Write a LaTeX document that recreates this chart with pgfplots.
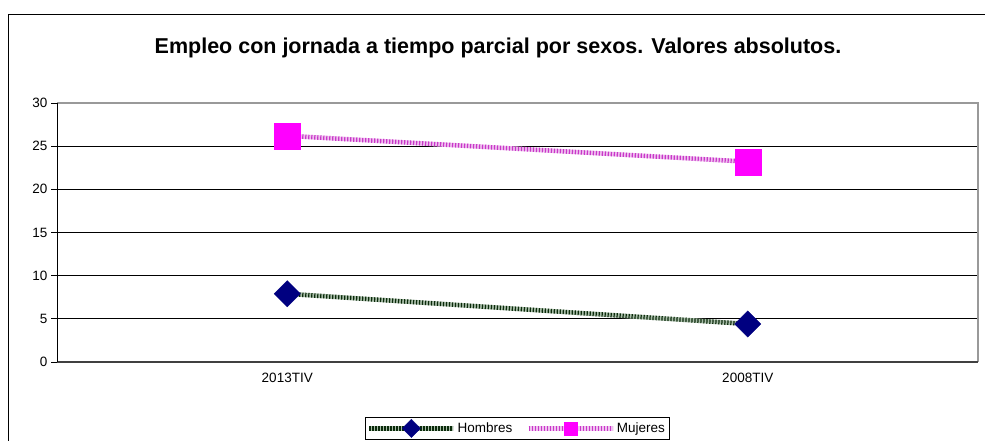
\documentclass[border=0pt]{standalone}
\usepackage{fontspec}
\setmainfont{Liberation Sans}
\usepackage{pgfplots}
\pgfplotsset{compat=1.18}
\definecolor{hmark}{HTML}{000080}
\definecolor{hdark}{HTML}{0A2A0A}
\definecolor{hlight}{HTML}{A8BCA8}
\definecolor{mmark}{HTML}{FF00FF}
\definecolor{mdark}{HTML}{C838C8}
\definecolor{mlight}{HTML}{F0C0F0}
\begin{document}
\begin{tikzpicture}[x=1bp,y=1bp]
\clip (0,0) rectangle (985,441);
\path[use as bounding box] (0,0) rectangle (985,441);
\draw[black, line width=1bp] (8,-20) -- (8,426) -- (1000,426);
\node[font=\bfseries\fontsize{21.5bp}{24bp}\selectfont] at (498,393) {Empleo con jornada a tiempo parcial por sexos. Valores absolutos.};
\begin{axis}[
  at={(57bp,79bp)}, anchor=south west,
  scale only axis, width=921bp, height=259bp,
  xmin=0, xmax=2, ymin=0, ymax=30,
  xtick={0.5,1.5}, xticklabels={2013TIV,2008TIV},
  extra x ticks={0,1,2}, extra x tick labels={},
  extra x tick style={major tick length=6bp, tick style={black}, grid=none},
  major x tick style={draw=none},
  ytick={0,5,...,30},
  ymajorgrids, grid style={black, line width=0.8bp},
  y tick style={black, line width=0.8bp}, major tick length=6bp,
  tick align=outside, xtick pos=bottom, ytick pos=left,
  axis line style={draw=none},
  tick label style={font=\fontsize{13.5bp}{15bp}\selectfont},
  /pgf/number format/assume math mode=true,
  xticklabel style={yshift=-2bp},
  legend style={at={(0.4995,-0.212)}, anchor=north, legend columns=2, draw=black, line width=0.6bp,
    font=\fontsize{13.5bp}{15bp}\selectfont, inner sep=2bp,
    /tikz/every even column/.append style={column sep=12bp},
    /tikz/every odd column/.append style={column sep=0bp}},
  legend cell align=left,
  clip=false,
]
% borders
\draw[gray!80, line width=1.6bp] (axis cs:0,30) -- (axis cs:2,30) -- (axis cs:2,0);
\draw[black!75, line width=1.8bp] (axis cs:0,0) -- (axis cs:2,0);
\draw[black, line width=1bp] (axis cs:0,0) -- (axis cs:0,30);
\addplot[hlight, line width=4.5bp, forget plot] coordinates {(0.5,7.9) (1.5,4.4)};
\addplot[hdark, line width=4.5bp, dash pattern=on 1.2bp off 1.8bp,
  mark=square*, mark size=9.3bp, mark options={solid, fill=hmark, draw=hmark, line width=0.3bp, rotate=45},
  legend image code/.code={
    \draw[hlight, line width=4.5bp, solid] (0bp,0bp) -- (84bp,0bp);
    \draw[mark repeat=2, mark phase=2, mark size=6.5bp] plot coordinates {(0bp,0bp) (42bp,0bp) (84bp,0bp)};
  }]
  coordinates {(0.5,7.9) (1.5,4.4)};
\addlegendentry{Hombres}
\addplot[mlight, line width=4.5bp, forget plot] coordinates {(0.5,26.2) (1.5,23.2)};
\addplot[mdark, line width=4.5bp, dash pattern=on 1.2bp off 1.8bp,
  mark=square*, mark size=13bp, mark options={solid, fill=mmark, draw=mmark, line width=0.3bp},
  legend image code/.code={
    \draw[mlight, line width=4.5bp, solid] (0bp,0bp) -- (84bp,0bp);
    \draw[mark repeat=2, mark phase=2, mark size=6.5bp] plot coordinates {(0bp,0bp) (42bp,0bp) (84bp,0bp)};
  }]
  coordinates {(0.5,26.2) (1.5,23.2)};
\addlegendentry{Mujeres}
\end{axis}
\end{tikzpicture}
\end{document}
